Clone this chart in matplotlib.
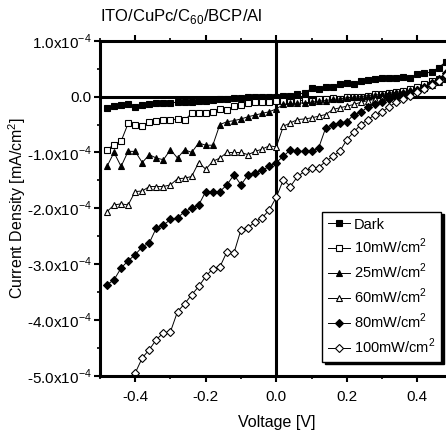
import matplotlib
matplotlib.use('Agg')
import matplotlib.pyplot as plt
from matplotlib.ticker import MultipleLocator, FixedLocator

plt.rcParams['font.family'] = ['Liberation Sans', 'DejaVu Sans']
plt.rcParams['mathtext.fontset'] = 'custom'
plt.rcParams['mathtext.rm'] = 'Liberation Sans'

# voltage grid (V)
volts = [-0.48, -0.46, -0.44, -0.42, -0.40, -0.38, -0.36, -0.34, -0.32, -0.30,
         -0.28, -0.26, -0.24, -0.22, -0.20, -0.18, -0.16, -0.14, -0.12, -0.10,
         -0.08, -0.06, -0.04, -0.02, 0.00, 0.02, 0.04, 0.06, 0.08, 0.10,
         0.12, 0.14, 0.16, 0.18, 0.20, 0.22, 0.24, 0.26, 0.28, 0.30,
         0.32, 0.34, 0.36, 0.38, 0.40, 0.42, 0.44, 0.46, 0.48]
volts_100 = volts[4:]

# current density in units of 1e-4 mA/cm^2
dark = [-0.20, -0.16, -0.15, -0.14, -0.18, -0.15, -0.14, -0.12, -0.12, -0.11,
        -0.10, -0.10, -0.09, -0.08, -0.07, -0.06, -0.05, -0.04, -0.03, -0.02,
        -0.01, -0.01, 0.00, 0.00, 0.00, 0.01, 0.02, 0.05, 0.06, 0.15,
        0.14, 0.18, 0.18, 0.22, 0.24, 0.22, 0.28, 0.30, 0.31, 0.33,
        0.33, 0.34, 0.36, 0.34, 0.40, 0.42, 0.44, 0.52, 0.62]
p10 = [-0.95, -0.86, -0.80, -0.48, -0.50, -0.52, -0.45, -0.44, -0.42, -0.42,
       -0.40, -0.42, -0.30, -0.29, -0.29, -0.28, -0.22, -0.24, -0.16, -0.15,
       -0.12, -0.10, -0.10, -0.10, -0.08, -0.08, -0.10, -0.08, -0.06, -0.08,
       -0.05, -0.05, -0.03, -0.04, -0.01, 0.00, 0.00, 0.02, 0.04, 0.05,
       0.06, 0.08, 0.10, 0.14, 0.18, 0.22, 0.28, 0.32, 0.38]
p25 = [-1.25, -1.00, -1.25, -0.98, -0.98, -1.18, -1.04, -1.10, -1.13, -0.95,
       -1.10, -0.95, -1.00, -0.83, -0.87, -0.87, -0.50, -0.45, -0.43, -0.40,
       -0.36, -0.33, -0.30, -0.27, -0.22, -0.14, -0.12, -0.12, -0.11, -0.10,
       -0.08, -0.07, -0.05, -0.04, -0.02, -0.01, 0.00, 0.02, 0.03, 0.04,
       0.06, 0.08, 0.09, 0.11, 0.13, 0.16, 0.20, 0.26, 0.32]
p60 = [-2.06, -1.94, -1.92, -1.94, -1.70, -1.69, -1.61, -1.61, -1.61, -1.58,
       -1.47, -1.46, -1.43, -1.18, -1.30, -1.16, -1.10, -1.00, -1.00, -1.00,
       -1.04, -0.98, -0.94, -0.88, -0.90, -0.53, -0.47, -0.41, -0.40, -0.38,
       -0.35, -0.32, -0.23, -0.20, -0.17, -0.14, -0.10, -0.07, -0.05, -0.02,
       0.00, 0.03, 0.07, 0.10, 0.14, 0.18, 0.24, 0.30, 0.40]
p80 = [-3.37, -3.28, -3.07, -2.94, -2.83, -2.69, -2.62, -2.35, -2.30, -2.20,
       -2.17, -2.06, -2.00, -1.94, -1.70, -1.70, -1.70, -1.58, -1.40, -1.58,
       -1.40, -1.36, -1.32, -1.25, -1.18, -1.07, -0.95, -0.98, -0.98, -0.98,
       -0.92, -0.56, -0.50, -0.47, -0.45, -0.32, -0.28, -0.18, -0.14, -0.10,
       -0.05, 0.00, 0.04, 0.08, 0.12, 0.18, 0.25, 0.32, 0.42]
p100 = [-4.95, -4.68, -4.53, -4.35, -4.23, -4.21, -3.85, -3.71, -3.55, -3.40,
        -3.22, -3.08, -3.05, -2.78, -2.80, -2.38, -2.35, -2.24, -2.17, -2.03,
        -1.80, -1.49, -1.61, -1.43, -1.34, -1.27, -1.27, -1.16, -1.07, -0.98,
        -0.77, -0.63, -0.50, -0.41, -0.32, -0.27, -0.18, -0.10, -0.04, 0.02,
        0.08, 0.14, 0.20, 0.28, 0.38]

labels = ['Dark', r'10mW/cm$^2$', r'25mW/cm$^2$', r'60mW/cm$^2$',
          r'80mW/cm$^2$', r'100mW/cm$^2$']
markers = ['s', 's', '^', '^', 'D', 'D']
fills = ['black', 'white', 'black', 'white', 'black', 'white']

ytick_vals = [1.0, 0.0, -1.0, -2.0, -3.0, -4.0, -5.0]
ytick_labels = [r'1.0x10$^{-4}$', '0.0', r'-1.0x10$^{-4}$', r'-2.0x10$^{-4}$',
                r'-3.0x10$^{-4}$', r'-4.0x10$^{-4}$', r'-5.0x10$^{-4}$']

fig = plt.figure(figsize=(4.46, 4.34), dpi=100)
ax = fig.add_axes([0.224, 0.134, 0.791, 0.772])

series = [(volts, dark), (volts, p10), (volts, p25), (volts, p60),
          (volts, p80), (volts_100, p100)]
for i, (x, y) in enumerate(series):
    ms = 4.5 if markers[i] != 'D' else 4.0
    ax.plot(x, y, color='black', lw=0.7, marker=markers[i], ms=ms,
            mfc=fills[i], mec='black', mew=0.8, label=labels[i])

ax.axhline(0, color='black', lw=2.2, zorder=1)
ax.axvline(0, color='black', lw=2.2, zorder=1)

ax.set_xlim(-0.5, 0.5)
ax.set_ylim(-5.0, 1.0)
ax.xaxis.set_major_locator(FixedLocator([-0.4, -0.2, 0.0, 0.2, 0.4]))
ax.set_xticklabels(['-0.4', '-0.2', '0.0', '0.2', '0.4'])
ax.xaxis.set_minor_locator(MultipleLocator(0.1))
ax.set_yticks(ytick_vals)
ax.set_yticklabels(ytick_labels)
ax.yaxis.set_minor_locator(MultipleLocator(0.5))
ax.tick_params(axis='both', which='major', direction='out', length=4,
               width=1.5, labelsize=11)
ax.tick_params(axis='both', which='minor', direction='out', length=2.5,
               width=1.2)
ax.tick_params(axis='x', which='both', top=True, pad=6)
ax.tick_params(axis='y', which='both', pad=2)
for s in ax.spines.values():
    s.set_linewidth(2.2)

ax.set_xlabel('Voltage [V]', fontsize=11.5, labelpad=8)
ax.set_ylabel(r'Current Density [mA/cm$^2$]', fontsize=11.5)
ax.yaxis.set_label_coords(-0.205, 0.5)
fig.text(0.224, 0.94, r'ITO/CuPc/C$_{60}$/BCP/Al', fontsize=12,
         ha='left', va='bottom')

leg = ax.legend(loc='upper left', bbox_to_anchor=(0.629, 0.49),
                frameon=True, fancybox=False,
                shadow={'color': 'black', 'alpha': 1.0}, fontsize=10.5,
                handlelength=1.5, handletextpad=0.3, labelspacing=0.38,
                borderpad=0.4, borderaxespad=0)
leg.get_frame().set_edgecolor('black')
leg.get_frame().set_linewidth(1.0)

fig.savefig('out.png', dpi=100)
